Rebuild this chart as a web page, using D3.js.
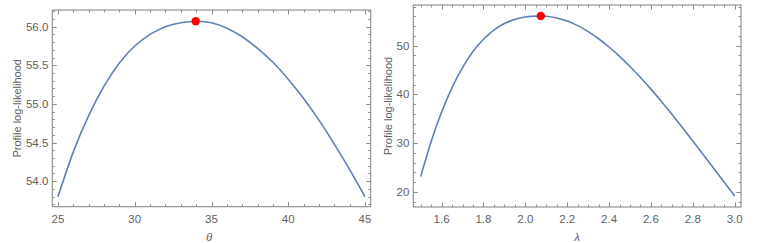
<!DOCTYPE html>
<html>
<head>
<meta charset="utf-8">
<script src="https://cdn.jsdelivr.net/npm/d3@7"></script>
<style>
  body { margin: 0; background: #fff; }
  text { font-family: "Liberation Sans", Arial, sans-serif; }
</style>
</head>
<body>
<svg></svg>
<script>
const w = 758
const h = 243

// left panel: profile log-likelihood of theta
const thetaVals = [25, 26, 27, 28, 29, 30, 31, 32, 33, 34, 35, 36, 37, 38, 39, 40, 41, 42, 43, 44, 45]
const thetaLik = [53.80, 54.38, 54.85, 55.23, 55.53, 55.75, 55.90, 56.00, 56.05, 56.07, 56.05, 55.98, 55.87, 55.72, 55.54, 55.32, 55.07, 54.79, 54.48, 54.15, 53.80]
const thetaHat = 33.97
const thetaHatLik = 56.07
const thetaTicks = [25, 30, 35, 40, 45]
const thetaLikTicks = [54.0, 54.5, 55.0, 55.5, 56.0]

// right panel: profile log-likelihood of lambda
const lambdaVals = [1.5, 1.55, 1.6, 1.65, 1.7, 1.75, 1.8, 1.85, 1.9, 1.95, 2.0, 2.05, 2.1, 2.15, 2.2, 2.25, 2.3, 2.35, 2.4, 2.45, 2.5, 2.55, 2.6, 2.65, 2.7, 2.75, 2.8, 2.85, 2.9, 2.95, 3.0]
const lambdaLik = [23.14, 30.31, 36.37, 41.41, 45.52, 48.80, 51.34, 53.22, 54.55, 55.41, 55.89, 56.08, 56.05, 55.71, 55.06, 54.12, 52.90, 51.43, 49.74, 47.83, 45.74, 43.49, 41.09, 38.56, 35.93, 33.22, 30.45, 27.64, 24.80, 21.98, 19.17]
const lambdaHat = 2.074
const lambdaHatLik = 56.1
const lambdaTicks = [1.6, 1.8, 2.0, 2.2, 2.4, 2.6, 2.8, 3.0]
const lambdaLikTicks = [20, 30, 40, 50]

const svg = d3.select('svg')
  .attr('width', w)
  .attr('height', h);

const frameColor = '#8a8a8a'
const labelColor = '#5f5f5f'
const curveColor = '#5e81b5'

const drawPanel = p => {
  const xScale = d3.scaleLinear().domain(p.xDomain).range([p.left, p.right])
  const yScale = d3.scaleLinear().domain(p.yDomain).range([p.bottom, p.top])

  const g = svg.append('g')

  // frame ticks, inward, on all four sides
  const xMinor = d3.range(Math.ceil(p.xDomain[0] / p.xMinorStep) * p.xMinorStep, p.xDomain[1], p.xMinorStep)
  const yMinor = d3.range(Math.ceil(p.yDomain[0] / p.yMinorStep) * p.yMinorStep, p.yDomain[1], p.yMinorStep)

  const isMajor = (v, ticks) => ticks.some(t => Math.abs(t - v) < 1e-6)

  xMinor.forEach(v => {
    const len = isMajor(v, p.xTicks) ? 4.5 : 2.5
    const x = Math.round(xScale(v)) + 0.5
    g.append('line').attr('x1', x).attr('x2', x)
      .attr('y1', p.bottom).attr('y2', p.bottom - len)
      .attr('stroke', frameColor)
    g.append('line').attr('x1', x).attr('x2', x)
      .attr('y1', p.top).attr('y2', p.top + len)
      .attr('stroke', frameColor)
  })
  yMinor.forEach(v => {
    const len = isMajor(v, p.yTicks) ? 4.5 : 2.5
    const y = Math.round(yScale(v)) + 0.5
    g.append('line').attr('y1', y).attr('y2', y)
      .attr('x1', p.left).attr('x2', p.left + len)
      .attr('stroke', frameColor)
    g.append('line').attr('y1', y).attr('y2', y)
      .attr('x1', p.right).attr('x2', p.right - len)
      .attr('stroke', frameColor)
  })

  g.append('rect')
    .attr('x', p.left).attr('y', p.top)
    .attr('width', p.right - p.left).attr('height', p.bottom - p.top)
    .attr('fill', 'none')
    .attr('stroke', frameColor)
    .attr('stroke-width', 1.1)

  // tick labels
  g.selectAll('.xt').data(p.xTicks).enter().append('text')
    .attr('x', d => xScale(d))
    .attr('y', p.bottom + 16)
    .attr('text-anchor', 'middle')
    .attr('font-size', 11.5)
    .attr('fill', labelColor)
    .text(p.xFormat)

  g.selectAll('.yt').data(p.yTicks).enter().append('text')
    .attr('x', p.left - 4)
    .attr('y', d => yScale(d) + 4)
    .attr('text-anchor', 'end')
    .attr('font-size', 11.5)
    .attr('fill', labelColor)
    .text(p.yFormat)

  // axis labels
  g.append('text')
    .attr('x', p.xLabelX)
    .attr('y', 241)
    .attr('text-anchor', 'middle')
    .attr('font-size', 11.5)
    .attr('font-style', 'italic')
    .attr('fill', labelColor)
    .text(p.xLabel)

  g.append('text')
    .attr('transform', `translate(${p.yLabelX}, ${(p.top + p.bottom) / 2}) rotate(-90)`)
    .attr('text-anchor', 'middle')
    .attr('font-size', 11)
    .attr('fill', labelColor)
    .text('Profile log-likelihood')

  // curve
  const line = d3.line()
    .x(d => xScale(d[0]))
    .y(d => yScale(d[1]))
    .curve(d3.curveNatural)

  g.append('path')
    .datum(d3.zip(p.xs, p.ys))
    .attr('d', line)
    .attr('fill', 'none')
    .attr('stroke', curveColor)
    .attr('stroke-width', 1.6)

  g.append('circle')
    .attr('cx', xScale(p.hat[0]))
    .attr('cy', yScale(p.hat[1]))
    .attr('r', 4.2)
    .attr('fill', '#ff0000')
}

drawPanel({
  left: 52.3, right: 370.7, top: 10, bottom: 206.7,
  xDomain: [24.63, 45.37], yDomain: [53.67, 56.216],
  xTicks: thetaTicks, yTicks: thetaLikTicks,
  xMinorStep: 1, yMinorStep: 0.1,
  xFormat: d3.format('d'), yFormat: d3.format('.1f'),
  xs: thetaVals, ys: thetaLik,
  hat: [thetaHat, thetaHatLik],
  xLabel: 'θ', xLabelX: 209, yLabelX: 21
})

drawPanel({
  left: 413.3, right: 741, top: 5, bottom: 207,
  xDomain: [1.465, 3.03], yDomain: [16.9, 58.36],
  xTicks: lambdaTicks, yTicks: lambdaLikTicks,
  xMinorStep: 0.05, yMinorStep: 2,
  xFormat: d3.format('.1f'), yFormat: d3.format('d'),
  xs: lambdaVals, ys: lambdaLik,
  hat: [lambdaHat, lambdaHatLik],
  xLabel: 'λ', xLabelX: 577, yLabelX: 392
})
</script>
</body>
</html>
